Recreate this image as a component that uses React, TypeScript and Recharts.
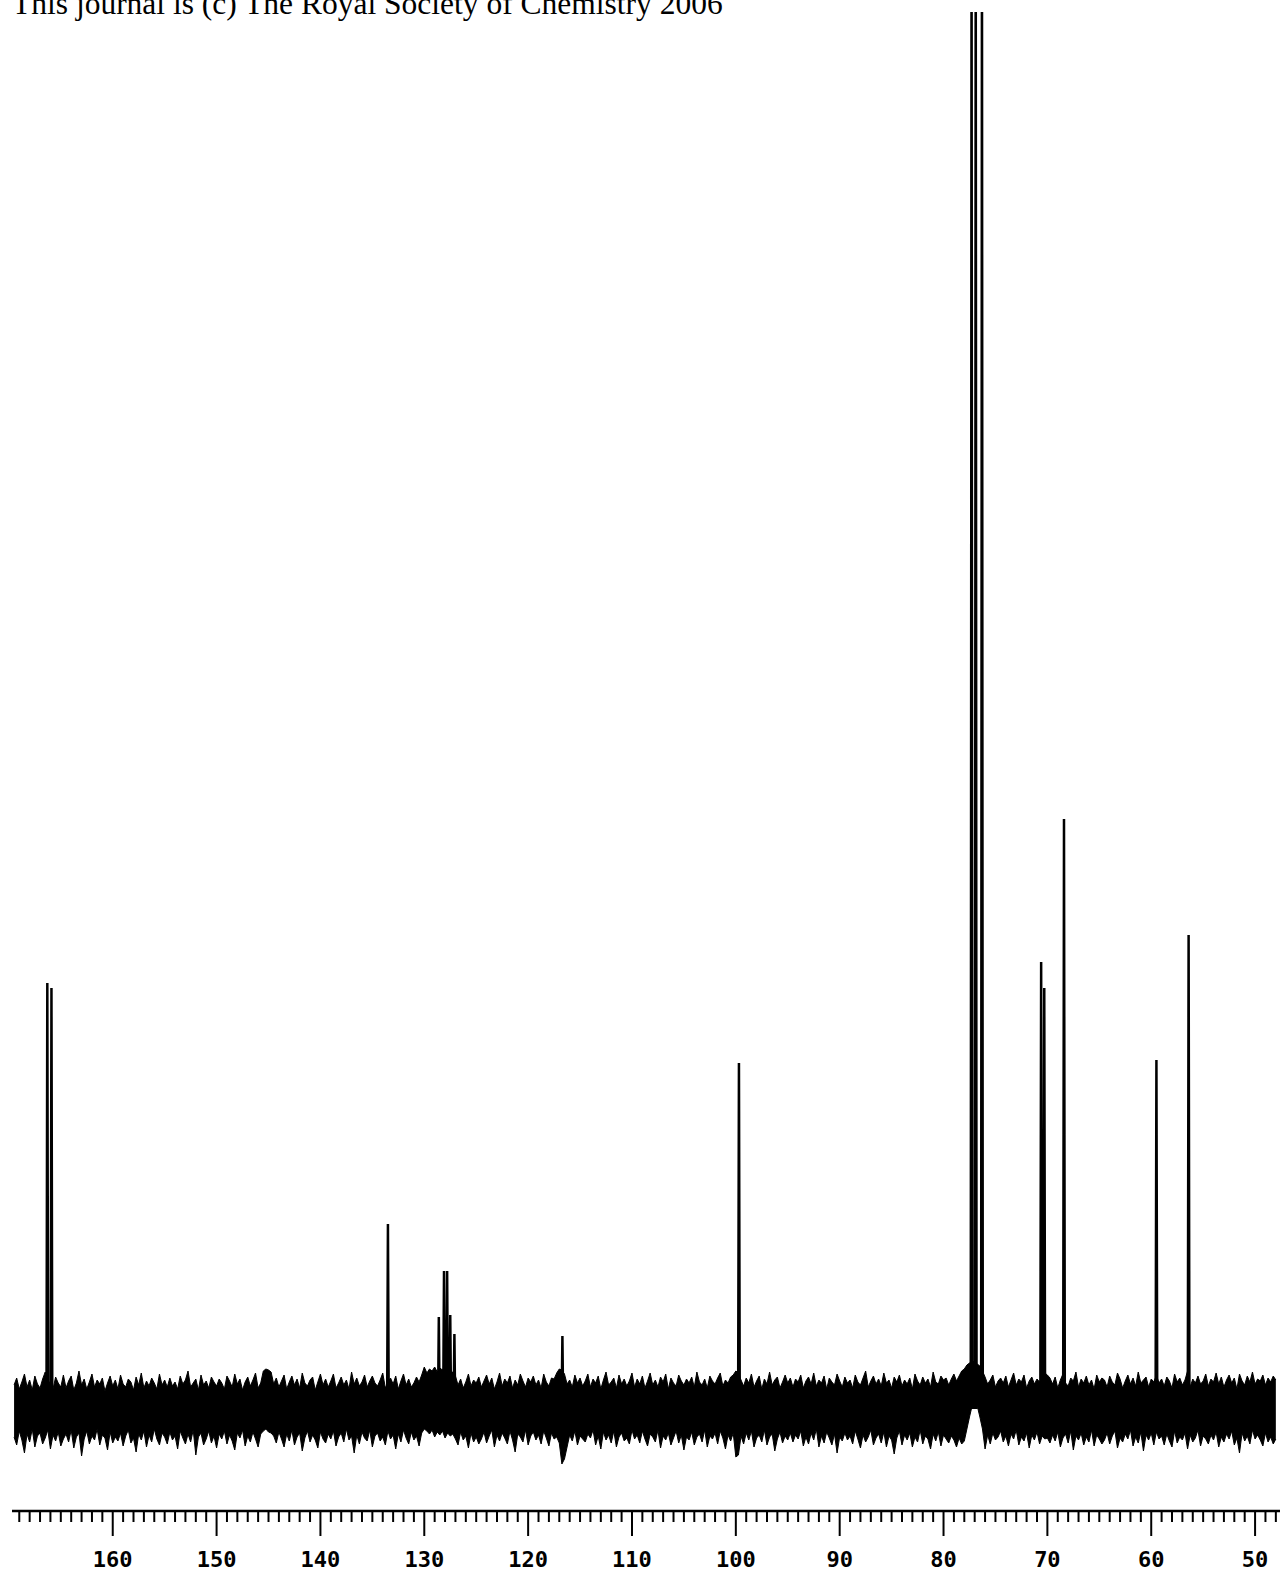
import { ComposedChart, Area, Line, XAxis, YAxis } from "recharts";

// 13C spectrum, chemical shift in ppm, intensity in plot units above baseline
const startPpm = 169.5;
const stepPpm = 0.25;

// upper edge of the baseline noise, one value per 0.25 ppm from 169.5 down to 48
const noiseTop = [
  24, 31, 20, 27, 35, 22, 29, 19, 33, 25, 21, 30, 37, 23, 28, 20, 32, 26, 22, 34,
  21, 28, 33, 19, 26, 38, 24, 30, 20, 27, 35, 22, 29, 25, 31, 18, 26, 33, 23, 29,
  20, 34, 25, 22, 30, 27, 19, 32, 24, 36, 21, 28, 23, 31, 26, 20, 35, 24, 29, 22,
  31, 23, 27, 20, 33, 25, 29, 38, 22, 26, 30, 19, 34, 24, 28, 21, 32, 27, 23, 30,
  26, 20, 33, 28, 22, 35, 25, 30, 19, 27, 32, 23, 29, 36, 21, 26, 38, 40, 39, 37,
  25, 31, 22, 28, 34, 20, 27, 33, 24, 30, 21, 36, 26, 23, 29, 32, 19, 27, 35, 24,
  30, 22, 28, 35, 21, 26, 32, 24, 29, 20, 37, 25, 31, 23, 27, 34, 22, 28, 33, 26,
  23, 29, 36, 21, 27, 31, 25, 33, 20, 28, 35, 24, 30, 22, 26, 32, 27, 34, 42, 36,
  40, 38, 42, 37, 41, 39, 43, 38, 40, 36, 33, 24, 30, 21, 27, 35, 23, 29, 26, 32,
  22, 28, 34, 25, 31, 20, 27, 36, 23, 30, 26, 33, 21, 29, 24, 35, 28, 22, 31, 27,
  33, 24, 29, 21, 35, 27, 23, 31, 30, 36, 40, 39, 35, 25, 29, 22, 34, 26, 31, 23,
  28, 35, 22, 30, 26, 33, 20, 29, 37, 24, 27, 31, 21, 34, 25, 30, 23, 28, 36, 22,
  30, 25, 33, 21, 28, 36, 24, 29, 22, 32, 27, 35, 20, 31, 26, 23, 34, 28, 24, 30,
  26, 32, 22, 37, 27, 24, 30, 21, 33, 28, 25, 31, 36, 23, 29, 26, 32, 34, 38, 36,
  29, 23, 31, 26, 35, 22, 28, 33, 20, 30, 25, 37, 24, 29, 32, 21, 27, 34, 26, 31,
  22, 30, 27, 34, 21, 28, 32, 25, 36, 23, 29, 26, 33, 20, 31, 27, 24, 35, 28, 22,
  32, 26, 29, 21, 34, 27, 24, 31, 38, 22, 28, 33, 25, 30, 23, 36, 26, 29, 21, 32,
  27, 34, 23, 29, 25, 31, 20, 35, 28, 24, 32, 26, 30, 22, 37, 27, 25, 33, 29, 31,
  24, 30, 35, 28, 33, 38, 40, 44, 46, 48, 47, 45, 43, 38, 32, 25, 29, 34, 22, 28,
  31, 26, 33, 22, 29, 36, 24, 30, 27, 34, 21, 28, 32, 25, 30, 27, 33, 36, 34, 31,
  25, 32, 21, 29, 35, 26, 23, 31, 28, 37, 22, 30, 26, 33, 24, 29, 20, 34, 27, 31,
  29, 22, 33, 27, 24, 36, 30, 21, 28, 34, 25, 31, 23, 37, 26, 29, 32, 22, 30, 27,
  34, 26, 30, 23, 32, 28, 21, 35, 27, 31, 24, 29, 38, 22, 30, 26, 33, 25, 28, 35,
  23, 30, 27, 36, 25, 32, 22, 29, 34, 26, 31, 20, 35, 28, 24, 33, 27, 37, 25, 30,
  28, 34, 24, 31, 27, 33, 29,
];

// lower edge of the baseline noise, same grid
const noiseBottom = [
  -28, -36, -22, -31, -44, -25, -33, -20, -38, -27, -24, -35, -29, -21, -40, -26, -32, -23, -37, -30,
  -25, -33, -21, -39, -28, -24, -47, -30, -22, -35, -27, -31, -20, -36, -26, -29, -41, -23, -34, -28,
  -32, -24, -37, -27, -21, -34, -29, -43, -25, -31, -22, -38, -26, -33, -20, -30, -36, -24, -28, -35,
  -23, -31, -27, -40, -22, -29, -35, -25, -33, -21, -46, -28, -24, -36, -30, -22, -34, -27, -39, -25,
  -30, -22, -35, -26, -32, -41, -24, -29, -21, -37, -27, -33, -23, -30, -38, -25, -22, -20, -23, -24,
  -27, -34, -23, -30, -38, -25, -32, -21, -36, -28, -24, -42, -29, -22, -33, -26, -31, -39, -23, -30,
  -34, -25, -30, -22, -37, -28, -24, -33, -20, -31, -27, -44, -26, -35, -23, -29, -32, -21, -38, -27,
  -24, -32, -28, -36, -22, -30, -26, -40, -25, -33, -21, -29, -35, -23, -31, -27, -37, -24, -20, -22,
  -25, -21, -28, -23, -26, -22, -29, -24, -27, -25, -30, -36, -23, -31, -27, -39, -24, -33, -28, -35,
  -30, -23, -34, -27, -21, -38, -26, -32, -24, -29, -35, -22, -31, -43, -25, -28, -33, -21, -36, -27,
  -23, -31, -26, -35, -22, -29, -37, -24, -30, -28, -34, -55, -50, -38, -26, -32, -22, -36, -27, -30,
  -33, -25, -29, -21, -36, -27, -40, -23, -31, -26, -34, -22, -38, -28, -24, -32, -29, -35, -21, -30,
  -26, -34, -22, -30, -37, -25, -28, -33, -21, -39, -27, -31, -24, -36, -29, -22, -34, -26, -41, -28,
  -31, -23, -36, -28, -25, -33, -21, -38, -27, -30, -24, -35, -22, -29, -40, -26, -32, -24, -48, -46,
  -27, -35, -24, -31, -22, -38, -29, -26, -33, -21, -36, -28, -25, -42, -30, -23, -34, -27, -31, -24,
  -33, -26, -30, -22, -37, -28, -35, -24, -31, -20, -38, -27, -34, -23, -29, -36, -25, -44, -28, -32,
  -24, -31, -27, -35, -22, -30, -39, -26, -33, -28, -21, -36, -29, -25, -34, -23, -38, -27, -31, -45,
  -29, -22, -36, -26, -31, -24, -38, -28, -33, -21, -35, -27, -30, -40, -25, -32, -23, -37, -26, -30,
  -34, -27, -31, -38, -29, -35, -32, -20, -8, 3, 6, 3, -8, -20, -40, -26, -35, -24, -31, -28,
  -22, -33, -27, -37, -25, -30, -21, -36, -28, -32, -24, -39, -26, -31, -23, -35, -27, -30, -29, -34,
  -26, -32, -23, -38, -29, -25, -34, -22, -41, -27, -31, -24, -36, -28, -33, -21, -37, -26, -30, -35,
  -31, -24, -35, -27, -22, -39, -29, -33, -25, -30, -21, -37, -28, -34, -23, -42, -26, -31, -24, -36,
  -23, -30, -27, -36, -25, -32, -38, -22, -34, -28, -31, -24, -40, -26, -33, -29, -21, -37, -27, -30,
  -35, -26, -31, -23, -38, -28, -33, -25, -30, -22, -36, -29, -44, -24, -32, -27, -35, -21, -30, -26,
  -31, -37, -24, -33, -28, -35, -30,
];

// resonances: shift and height
const peakPpm = [
  166.3, 165.9, 133.5, 128.6, 128.1, 127.8, 127.5, 127.1, 116.7, 99.7,
  77.3, 76.9, 76.3, 70.6, 70.3, 68.4, 59.5, 56.4,
];
const peakHeight = [
  426, 421, 185, 92, 138, 138, 94, 75, 73, 346,
  1500, 1500, 1500, 447, 421, 590, 349, 474,
];

const labelTicks = [160, 150, 140, 130, 120, 110, 100, 90, 80, 70, 60, 50];

const noiseData = noiseTop.map((hi, i) => ({
  ppm: startPpm - i * stepPpm,
  band: [noiseBottom[i], hi],
}));

const peakData: { ppm: number; y: number | null }[] = [];
peakPpm.forEach((p, i) => {
  peakData.push({ ppm: p + 0.08, y: 0 });
  peakData.push({ ppm: p, y: peakHeight[i] });
  peakData.push({ ppm: p - 0.08, y: 0 });
  peakData.push({ ppm: p - 0.09, y: null });
});

const allTicks: number[] = [];
for (let t = 48; t <= 169; t++) allTicks.push(t);

function PpmTick(props: any) {
  const { x, y, payload } = props;
  const major = labelTicks.includes(payload.value);
  return (
    <g>
      <line x1={x} y1={y} x2={x} y2={y + (major ? 25 : 11)} stroke="#000" strokeWidth={2} />
      {major && (
        <text
          x={x}
          y={y + 56}
          textAnchor="middle"
          fontFamily="DejaVu Sans Mono"
          fontWeight="bold"
          fontSize={22}
          fill="#000"
        >
          {payload.value}
        </text>
      )}
    </g>
  );
}

export default function App() {
  return (
    <div style={{ position: "absolute", left: 0, top: 0, width: 1283, height: 1573, background: "#fff", overflow: "hidden" }}>
      <div
        style={{
          position: "absolute",
          left: 12,
          top: -12,
          fontFamily: "Liberation Serif",
          fontSize: 31.5,
          lineHeight: "31.5px",
          color: "#000",
          whiteSpace: "nowrap",
        }}
      >
        This journal is (c) The Royal Society of Chemistry 2006
      </div>
      <ComposedChart width={1283} height={1573} margin={{ top: 12, right: 3, bottom: 12, left: 12 }}>
        <XAxis
          type="number"
          dataKey="ppm"
          domain={[47.6, 169.7]}
          reversed
          allowDataOverflow
          ticks={allTicks}
          interval={0}
          tickSize={0}
          tickMargin={0}
          tickLine={false}
          tick={<PpmTick />}
          axisLine={{ stroke: "#000", strokeWidth: 2.5 }}
          height={50}
        />
        <YAxis hide type="number" domain={[-102, 1397]} allowDataOverflow />
        <Area
          data={noiseData}
          dataKey="band"
          type="linear"
          stroke="#000"
          strokeWidth={1}
          fill="#000"
          fillOpacity={1}
          dot={false}
          activeDot={false}
          isAnimationActive={false}
        />
        <Line
          data={peakData}
          dataKey="y"
          type="linear"
          stroke="#000"
          strokeWidth={2.5}
          dot={false}
          activeDot={false}
          connectNulls={false}
          isAnimationActive={false}
        />
      </ComposedChart>
    </div>
  );
}
